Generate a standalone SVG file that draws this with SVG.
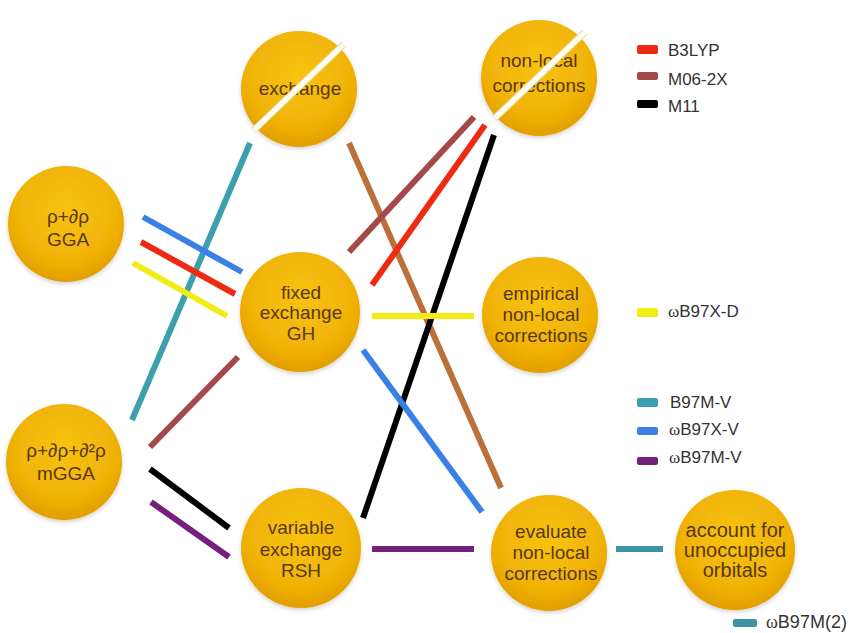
<svg xmlns="http://www.w3.org/2000/svg" width="858" height="633" viewBox="0 0 858 633">
<defs>
<radialGradient id="gold" cx="50%" cy="38%" r="60%">
<stop offset="0" stop-color="#f8c30c"/>
<stop offset="0.75" stop-color="#f0b206"/>
<stop offset="1" stop-color="#e3a000"/>
</radialGradient>
<filter id="sh" x="-20%" y="-20%" width="140%" height="140%">
<feDropShadow dx="0" dy="2" stdDeviation="2" flood-color="#000" flood-opacity="0.18"/>
</filter>
</defs>
<style>
.node circle{fill:url(#gold);filter:url(#sh);}
.node text{font-family:"Liberation Sans",Arial,sans-serif;font-size:19px;fill:#5a3810;text-anchor:middle;}
.slash{stroke:#fffdf0;stroke-width:5;}
.slashb{stroke:#e8d9a8;stroke-width:7;}
#connectors line{stroke-width:6;}
.leg text{font-family:"Liberation Sans",Arial,sans-serif;font-size:17px;fill:#333;}
.om{font-family:"Liberation Serif","Times New Roman",serif;}
</style>
<rect width="858" height="633" fill="#fff"/>

<g id="connectors">
<line x1="250" y1="143" x2="132" y2="420" stroke="#3c9fae"/>
<line x1="143" y1="217" x2="242" y2="272" stroke="#3b80e6"/>
<line x1="141" y1="242" x2="235" y2="294" stroke="#ee2a12"/>
<line x1="133" y1="263" x2="227" y2="316" stroke="#f2ec14"/>
<line x1="349" y1="143" x2="501" y2="488" stroke="#bb7039"/>
<line x1="349" y1="252" x2="474" y2="117" stroke="#a5484a"/>
<line x1="372" y1="285" x2="485" y2="125" stroke="#ee2a12"/>
<line x1="494" y1="135" x2="363" y2="518" stroke="#000"/>
<line x1="372" y1="316" x2="474" y2="316" stroke="#f2ec14"/>
<line x1="363" y1="350" x2="482" y2="512" stroke="#3b80e6"/>
<line x1="150" y1="447" x2="238" y2="357" stroke="#a5484a"/>
<line x1="150" y1="469" x2="229" y2="528" stroke="#000"/>
<line x1="151" y1="502" x2="229" y2="557" stroke="#76207e"/>
<line x1="372" y1="549" x2="474" y2="549" stroke="#76207e"/>
<line x1="616" y1="549" x2="663" y2="549" stroke="#3d93a6"/>
</g>

<g id="gga" class="node">
<circle cx="66" cy="224" r="58"/>
<text x="68" y="223">ρ+∂ρ</text>
<text x="68" y="246">GGA</text>
</g>
<g id="mgga" class="node">
<circle cx="64" cy="462" r="58"/>
<text x="66" y="457">ρ+∂ρ+∂²ρ</text>
<text x="66" y="480">mGGA</text>
</g>
<g id="exchange" class="node">
<circle cx="299" cy="89" r="58"/>
<text x="300" y="95">exchange</text>
<line class="slashb" x1="254" y1="130" x2="344" y2="44"/>
<line class="slash" x1="254" y1="130" x2="344" y2="44"/>
</g>
<g id="nonlocal" class="node">
<circle cx="539" cy="78" r="58"/>
<text x="539" y="67">non-local</text>
<text x="539" y="92">corrections</text>
<line class="slashb" x1="495" y1="118" x2="585" y2="32"/>
<line class="slash" x1="495" y1="118" x2="585" y2="32"/>
</g>
<g id="gh" class="node">
<circle cx="300" cy="312" r="60"/>
<text x="301" y="299">fixed</text>
<text x="301" y="319">exchange</text>
<text x="301" y="340">GH</text>
</g>
<g id="empirical" class="node">
<circle cx="540" cy="315" r="58"/>
<text x="541" y="300">empirical</text>
<text x="541" y="321">non-local</text>
<text x="541" y="342">corrections</text>
</g>
<g id="rsh" class="node">
<circle cx="301" cy="548" r="60"/>
<text x="301" y="534">variable</text>
<text x="301" y="556">exchange</text>
<text x="301" y="577">RSH</text>
</g>
<g id="evaluate" class="node">
<circle cx="549" cy="553" r="58"/>
<text x="551" y="538">evaluate</text>
<text x="551" y="559">non-local</text>
<text x="551" y="580">corrections</text>
</g>
<g id="account" class="node">
<circle cx="735" cy="550" r="60"/>
<text x="735" y="537" style="font-size:20px">account for</text>
<text x="735" y="557" style="font-size:20px">unoccupied</text>
<text x="735" y="577" style="font-size:20px">orbitals</text>
</g>

<g id="legend" class="leg">
<rect x="637" y="45" width="21" height="9" rx="2" fill="#ee2a12"/>
<text x="668" y="56">B3LYP</text>
<rect x="637" y="72" width="21" height="8" rx="2" fill="#a5484a"/>
<text x="668" y="85">M06-2X</text>
<rect x="637" y="100" width="21" height="8" rx="2" fill="#000"/>
<text x="668" y="112">M11</text>
<rect x="637" y="308" width="21" height="9" rx="2" fill="#f2ec14"/>
<text x="668" y="317"><tspan class="om">ω</tspan>B97X-D</text>
<rect x="637" y="398" width="21" height="9" rx="2" fill="#3c9fae"/>
<text x="670" y="408">B97M-V</text>
<rect x="637" y="427" width="21" height="8" rx="2" fill="#3b80e6"/>
<text x="669" y="435"><tspan class="om">ω</tspan>B97X-V</text>
<rect x="637" y="457" width="21" height="8" rx="2" fill="#76207e"/>
<text x="669" y="463"><tspan class="om">ω</tspan>B97M-V</text>
<rect x="733" y="619" width="24" height="8" rx="2" fill="#3d93a6"/>
<text x="766" y="628" style="font-size:18px"><tspan class="om">ω</tspan>B97M(2)</text>
</g>
</svg>
